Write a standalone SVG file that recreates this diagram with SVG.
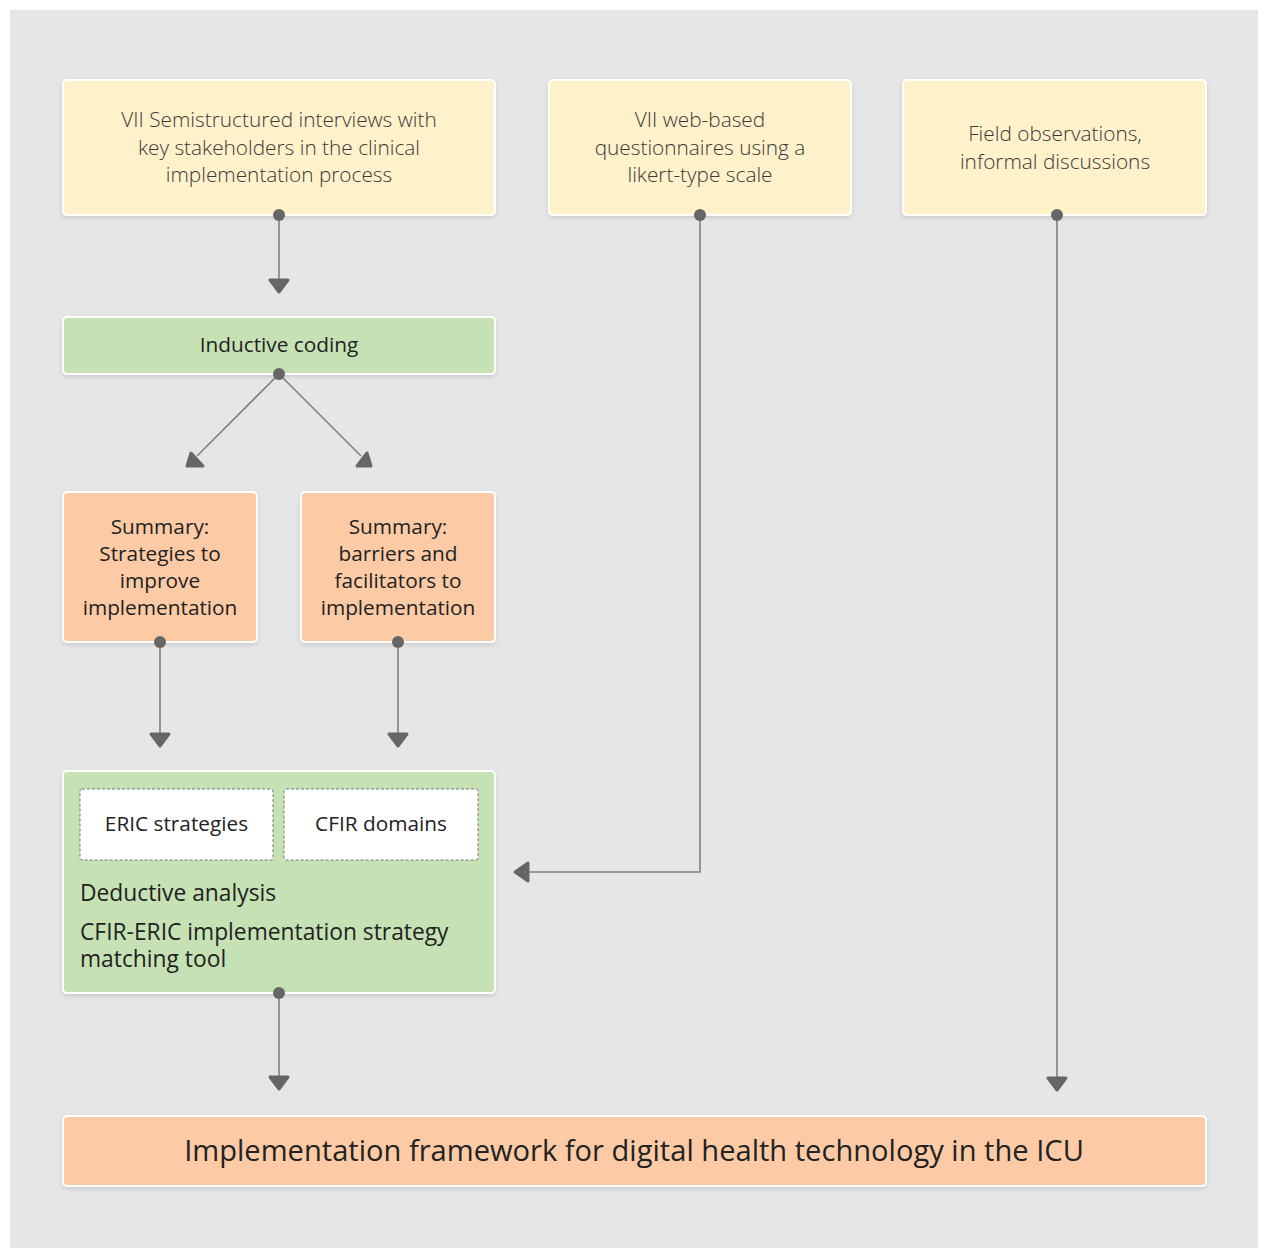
<svg xmlns="http://www.w3.org/2000/svg" width="1264" height="1248" viewBox="0 0 1264 1248">
<style>
.box{stroke:#ffffff;stroke-width:2;filter:url(#sh)}
.yel{fill:#fff1c9}
.grn{fill:#c6e2b5}
.pch{fill:#fccba5}
.inner{fill:#ffffff;stroke:#777;stroke-width:1;stroke-dasharray:3 2}
.t{font-family:"Open Sans","Liberation Sans",sans-serif;font-size:20.8px;text-anchor:middle}
.lt{font-weight:300;fill:#3a3a3a}
.nm{font-weight:400;fill:#222}
.ll{font-family:"Open Sans","Liberation Sans",sans-serif;font-size:22.8px;fill:#222;text-anchor:start}
.con{stroke:#808080;stroke-width:1.6;fill:none}
.dot{fill:#666}
.ah{fill:#666;stroke:#666;stroke-width:3;stroke-linejoin:round}
</style>
<defs>
<filter id="sh" x="-5%" y="-10%" width="110%" height="125%">
<feDropShadow dx="0" dy="2" stdDeviation="2" flood-color="#000" flood-opacity="0.12"/>
</filter>
</defs>
<rect x="0" y="0" width="1264" height="1248" fill="#ffffff"/>
<rect x="10" y="10" width="1248" height="1238" fill="#e6e6e6"/>

<g id="n1">
<rect class="box yel" x="63" y="80" width="432" height="135" rx="4"/>
<text class="t lt" x="279" y="127">VII Semistructured interviews with</text>
<text class="t lt" x="279" y="154.5">key stakeholders in the clinical</text>
<text class="t lt" x="279" y="182">implementation process</text>
</g>
<g id="n2">
<rect class="box yel" x="549" y="80" width="302" height="135" rx="4"/>
<text class="t lt" x="700" y="127">VII web-based</text>
<text class="t lt" x="700" y="154.5">questionnaires using a</text>
<text class="t lt" x="700" y="182">likert-type scale</text>
</g>
<g id="n3">
<rect class="box yel" x="903" y="80" width="303" height="135" rx="4"/>
<text class="t lt" x="1055" y="141">Field observations,</text>
<text class="t lt" x="1055" y="168.5">informal discussions</text>
</g>
<g id="n4">
<rect class="box grn" x="63" y="317" width="432" height="57" rx="4"/>
<text class="t nm" x="279" y="352">Inductive coding</text>
</g>
<g id="n5">
<rect class="box pch" x="63" y="492" width="194" height="150" rx="4"/>
<text class="t nm" x="160" y="534">Summary:</text>
<text class="t nm" x="160" y="561">Strategies to</text>
<text class="t nm" x="160" y="588">improve</text>
<text class="t nm" x="160" y="615">implementation</text>
</g>
<g id="n6">
<rect class="box pch" x="301" y="492" width="194" height="150" rx="4"/>
<text class="t nm" x="398" y="534">Summary:</text>
<text class="t nm" x="398" y="561">barriers and</text>
<text class="t nm" x="398" y="588">facilitators to</text>
<text class="t nm" x="398" y="615">implementation</text>
</g>
<g id="n7">
<rect class="box grn" x="63" y="771" width="432" height="222" rx="4"/>
<g id="n7a">
<rect class="inner" x="80" y="789" width="193" height="71" rx="2"/>
<text class="t nm" x="176.5" y="831">ERIC strategies</text>
</g>
<g id="n7b">
<rect class="inner" x="284" y="789" width="194" height="71" rx="2"/>
<text class="t nm" x="381" y="831">CFIR domains</text>
</g>
<text class="ll" x="80" y="901">Deductive analysis</text>
<text class="ll" x="80" y="940">CFIR-ERIC implementation strategy<tspan x="80" y="967">matching tool</tspan></text>
</g>
<g id="n8">
<rect class="box pch" x="63" y="1116" width="1143" height="70" rx="4"/>
<text class="t nm" x="634" y="1161" style="font-size:29.1px">Implementation framework for digital health technology in the ICU</text>
</g>

<g id="connectors">
<line class="con" x1="279" y1="215" x2="279" y2="280"/>
<polygon class="ah" points="270,280 288,280 279,292"/>
<line class="con" x1="279" y1="374" x2="197" y2="456"/>
<polygon class="ah" points="187,466 203,466 191,453"/>
<line class="con" x1="279" y1="374" x2="361" y2="456"/>
<polygon class="ah" points="357,466 371,466 367,453"/>
<line class="con" x1="160" y1="642" x2="160" y2="734"/>
<polygon class="ah" points="151,734 169,734 160,746"/>
<line class="con" x1="398" y1="642" x2="398" y2="734"/>
<polygon class="ah" points="389,734 407,734 398,746"/>
<polyline class="con" points="700,215 700,872 528,872"/>
<polygon class="ah" points="528,863 528,881 515,872"/>
<line class="con" x1="1057" y1="215" x2="1057" y2="1078"/>
<polygon class="ah" points="1048,1078 1066,1078 1057,1090"/>
<line class="con" x1="279" y1="993" x2="279" y2="1077"/>
<polygon class="ah" points="270,1077 288,1077 279,1089"/>
<circle class="dot" cx="279" cy="215" r="6"/>
<circle class="dot" cx="279" cy="374" r="6"/>
<circle class="dot" cx="160" cy="642" r="6"/>
<circle class="dot" cx="398" cy="642" r="6"/>
<circle class="dot" cx="700" cy="215" r="6"/>
<circle class="dot" cx="1057" cy="215" r="6"/>
<circle class="dot" cx="279" cy="993" r="6"/>
</g>
</svg>
